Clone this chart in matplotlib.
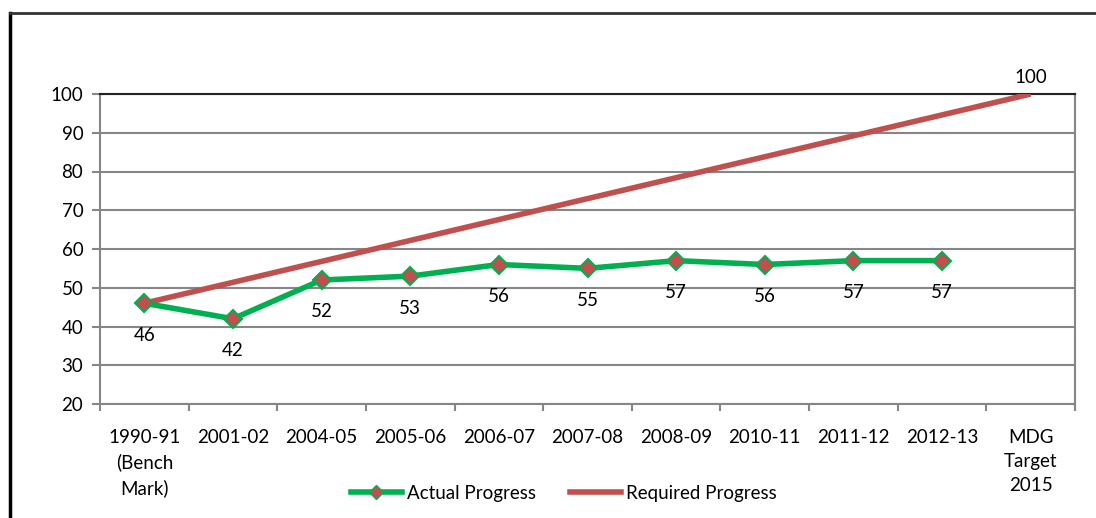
import matplotlib.pyplot as plt
from matplotlib.lines import Line2D
import numpy as np

plt.rcParams['font.family'] = ['Lato', 'DejaVu Sans']

years = ["1990-91\n(Bench\nMark)", "2001-02", "2004-05", "2005-06", "2006-07", "2007-08",
         "2008-09", "2010-11", "2011-12", "2012-13", "MDG\nTarget\n2015"]
actual = [46, 42, 52, 53, 56, 55, 57, 56, 57, 57]
# required progress runs straight from the benchmark to the 2015 target
required_pos = [0, 10]
required = [46, 100]

green = "#00B050"
red = "#C0504D"
grey = "#868686"
fs = 13.5

fig = plt.figure(figsize=(10.96, 5.18), dpi=100)
ax = fig.add_axes([100/1096, 1 - 404/518, 975/1096, 310/518])

x = np.arange(len(years))

ax.set_axisbelow(True)
ax.yaxis.grid(True, color=grey, linewidth=1.5)

ax.plot(required_pos, required, color=red, linewidth=4, solid_capstyle='butt', zorder=3)
ax.plot(x[:len(actual)], actual, color=green, linewidth=4, marker='D', markersize=9,
        markerfacecolor=red, markeredgecolor=green, markeredgewidth=1.5, zorder=4)

for xi, v in zip(x, actual):
    ax.annotate(str(v), (xi, v), xytext=(0, -23), textcoords='offset points',
                ha='center', va='center', fontsize=fs)
ax.annotate(str(required[-1]), (required_pos[-1], required[-1]), xytext=(0, 12),
            textcoords='offset points', ha='center', va='center', fontsize=fs)

ax.set_xlim(-0.5, len(years) - 0.5)
ax.set_ylim(20, 100)
ax.set_yticks(range(20, 101, 10))
ax.set_xticks(x)
ax.set_xticklabels(years, fontsize=fs, linespacing=1.5)
ax.set_xticks(np.arange(-0.5, len(years), 1), minor=True)
ax.tick_params(axis='x', which='major', length=0, pad=18)
ax.tick_params(axis='x', which='minor', length=5, width=1.5, color=grey)
ax.tick_params(axis='y', length=6, width=1.5, color=grey, labelsize=fs, pad=6)

for side in ['left', 'right', 'bottom']:
    ax.spines[side].set_color(grey)
    ax.spines[side].set_linewidth(1.5)
ax.spines['top'].set_color('#222222')
ax.spines['top'].set_linewidth(1.5)

handles = [Line2D([], [], color=green, linewidth=4, marker='D', markersize=7,
                  markerfacecolor=red, markeredgecolor=green),
           Line2D([], [], color=red, linewidth=4)]
fig.legend(handles, ["Actual Progress", "Required Progress"], loc='center',
           bbox_to_anchor=(564/1096, 1 - 493/518), ncol=2, frameon=False,
           fontsize=fs, handlelength=2.7, handletextpad=0.3, columnspacing=1.8)

# outer chart border (left and top edges)
fig.add_artist(Line2D([10/1096, 10/1096], [0, 1 - 13/518], color='black', linewidth=2.5,
                      transform=fig.transFigure))
fig.add_artist(Line2D([10/1096, 1], [1 - 13/518, 1 - 13/518], color='#333333', linewidth=2,
                      transform=fig.transFigure))

fig.savefig("out.png", dpi=100)
